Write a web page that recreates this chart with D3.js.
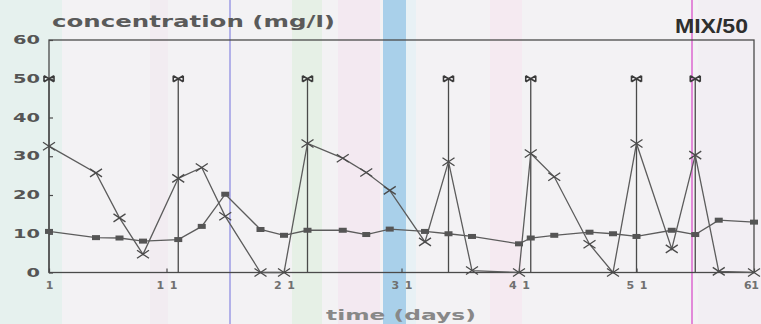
<!DOCTYPE html>
<html>
<head>
<meta charset="utf-8">
<script src="https://cdn.jsdelivr.net/npm/d3@7"></script>
<style>
  html, body { margin: 0; padding: 0; background: #f3f2f4; }
  svg { display: block; }
</style>
</head>
<body>
<svg id="chart" width="761" height="324"></svg>
<script>
// ---- data ----
const days = [1, 5, 7, 9, 12, 14, 16, 19, 21, 23, 26, 28, 30, 33, 35, 37, 41, 42, 44, 47, 49, 51, 54, 56, 58, 61];
const squareSeries = [10.6, 9.0, 8.9, 8.1, 8.5, 11.9, 20.2, 11.1, 9.6, 10.9, 10.9, 9.8, 11.2, 10.6, 10.0, 9.3, 7.4, 8.9, 9.6, 10.4, 10.0, 9.3, 10.9, 9.8, 13.5, 13.0];
const crossSeries = [32.6, 25.7, 14.1, 4.7, 24.3, 27.1, 14.5, 0, 0, 33.3, 29.5, 25.8, 21.2, 7.9, 28.6, 0.5, 0, 30.7, 24.7, 7.3, 0, 33.3, 6.1, 30.3, 0.3, 0];
const doseDays = [1, 12, 23, 35, 42, 51, 56];
const doseValues = [50, 50, 50, 50, 50, 50, 50];
const yTicks = [0, 10, 20, 30, 40, 50, 60];
const xTicks = [1, 11, 21, 31, 41, 51, 61];

// ---- scales ----
const svg = d3.select("#chart");
const x = d3.scaleLinear().domain([1, 61]).range([49, 754]);
const y = d3.scaleLinear().domain([0, 60]).range([272.5, 40]);

// ---- decorative scan banding of the reference ----
const bands = [
  {x0: 0, x1: 62, c: "#e6f1ee"},
  {x0: 150, x1: 168, c: "#f2ecf1"},
  {x0: 292, x1: 322, c: "#e6f0e6"},
  {x0: 338, x1: 380, c: "#f3e9f1"},
  {x0: 383, x1: 406, c: "#a9d0ea"},
  {x0: 406, x1: 416, c: "#e8f1f5"},
  {x0: 490, x1: 522, c: "#f5eaf1"},
  {x0: 229, x1: 231, c: "#b2b1e8"},
  {x0: 691, x1: 693, c: "#e28ad9"},
  {x0: 698, x1: 761, c: "#f2eef3"}
];
svg.append("g").selectAll("rect").data(bands).join("rect")
  .attr("x", d => d.x0).attr("width", d => d.x1 - d.x0)
  .attr("y", 0).attr("height", 324)
  .attr("fill", d => d.c);

const ink = "#4a4a4a";

// ---- frame ----
svg.append("rect")
  .attr("x", x(1)).attr("y", y(60))
  .attr("width", x(61) - x(1)).attr("height", y(0) - y(60))
  .attr("fill", "none").attr("stroke", ink).attr("stroke-width", 1.3);

// ---- y axis ----
const yAxis = svg.append("g")
  .attr("transform", `translate(${x(1)},0)`)
  .call(d3.axisLeft(y).tickValues(yTicks).tickSizeInner(-4).tickSizeOuter(0).tickPadding(9));
yAxis.select(".domain").remove();
yAxis.selectAll("line").attr("stroke", ink).attr("stroke-width", 1.2);
yAxis.selectAll("text")
  .attr("fill", "#555").attr("font-family", "DejaVu Sans, sans-serif")
  .attr("font-weight", "bold").attr("font-size", 11.5)
  .attr("textLength", d => String(d).length * 13.5)
  .attr("lengthAdjust", "spacingAndGlyphs");

// ---- x axis ----
const xAxis = svg.append("g")
  .attr("transform", `translate(0,${y(0)})`)
  .call(d3.axisBottom(x).tickValues(xTicks).tickSizeInner(-4).tickSizeOuter(0).tickPadding(9));
xAxis.select(".domain").remove();
xAxis.selectAll("line").attr("stroke", ink).attr("stroke-width", 1.2);
xAxis.selectAll("text")
  .attr("fill", "#707070").attr("font-family", "DejaVu Sans, sans-serif")
  .attr("font-weight", "bold").attr("font-size", 11)
  .attr("textLength", d => String(d).length === 1 ? 7 : (d === 61 ? 15 : 21))
  .attr("dx", d => d === 61 ? -3 : 0)
  .attr("lengthAdjust", "spacing");

// ---- dose spikes ----
const doses = doseDays.map((d, i) => ({d, v: doseValues[i]}));
svg.append("g").selectAll("line").data(doses).join("line")
  .attr("x1", d => x(d.d)).attr("x2", d => x(d.d))
  .attr("y1", y(0)).attr("y2", d => y(d.v))
  .attr("stroke", ink).attr("stroke-width", 1.3);
svg.append("g").selectAll("path").data(doses).join("path")
  .attr("transform", d => `translate(${x(d.d)},${y(d.v)})`)
  .attr("d", "M-5,-3L5,3M-5,3L5,-3M-5,-3L-5,3M5,-3L5,3")
  .attr("fill", "none").attr("stroke", "#3a3a3a").attr("stroke-width", 1.6);

// ---- series lines ----
const sq = days.map((d, i) => ({d, v: squareSeries[i]}));
const cr = days.map((d, i) => ({d, v: crossSeries[i]}));
const line = d3.line().x(p => x(p.d)).y(p => y(p.v));
svg.append("path").datum(cr).attr("d", line)
  .attr("fill", "none").attr("stroke", "#5c5c5c").attr("stroke-width", 1.3);
svg.append("path").datum(sq).attr("d", line)
  .attr("fill", "none").attr("stroke", "#5c5c5c").attr("stroke-width", 1.3);

// ---- markers ----
svg.append("g").selectAll("rect").data(sq).join("rect")
  .attr("x", p => x(p.d) - 4).attr("y", p => y(p.v) - 2.5)
  .attr("width", 8).attr("height", 5)
  .attr("fill", "#555");
svg.append("g").selectAll("path").data(cr).join("path")
  .attr("transform", p => `translate(${x(p.d)},${y(p.v)})`)
  .attr("d", "M-6,-4L6,4M-6,4L6,-4")
  .attr("fill", "none").attr("stroke", "#4a4a4a").attr("stroke-width", 1.3);

// ---- texts ----
svg.append("text")
  .attr("x", 52).attr("y", 27)
  .attr("font-family", "DejaVu Sans, sans-serif").attr("font-weight", "bold")
  .attr("font-size", 15.5).attr("fill", "#5a5a5a")
  .attr("textLength", 283).attr("lengthAdjust", "spacingAndGlyphs")
  .text("concentration (mg/l)");
svg.append("text")
  .attr("x", 748).attr("y", 33).attr("text-anchor", "end")
  .attr("font-family", "Liberation Sans, Arial, sans-serif").attr("font-weight", "bold")
  .attr("font-size", 20).attr("fill", "#2e2e2e")
  .attr("textLength", 73).attr("lengthAdjust", "spacingAndGlyphs")
  .text("MIX/50");
svg.append("text")
  .attr("x", 326).attr("y", 320)
  .attr("font-family", "DejaVu Sans, sans-serif").attr("font-weight", "bold")
  .attr("font-size", 14).attr("fill", "#888")
  .attr("textLength", 150).attr("lengthAdjust", "spacingAndGlyphs")
  .text("time (days)");
</script>
</body>
</html>
